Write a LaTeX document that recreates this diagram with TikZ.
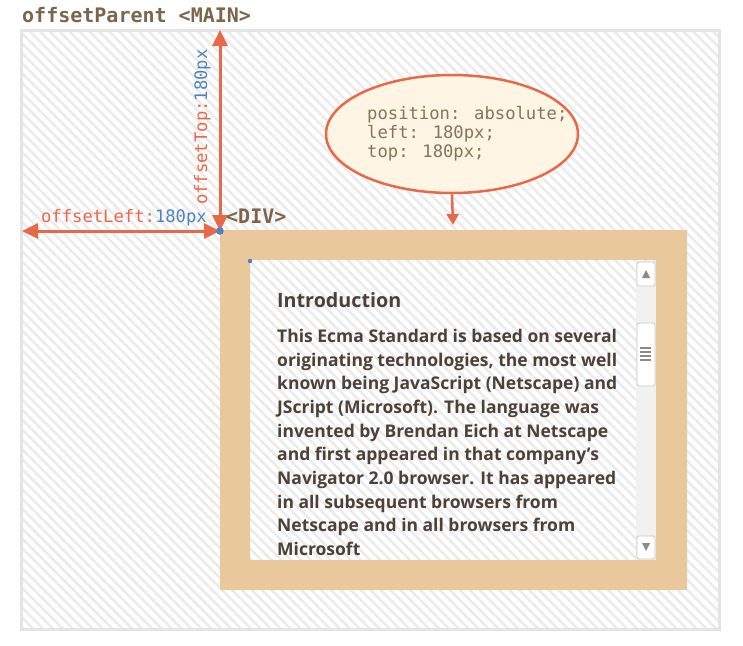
\documentclass[tikz,border=0pt]{standalone}
\usepackage{fontspec}
\setmainfont{Open Sans}
\newfontfamily\codefont{DejaVu Sans Mono}
\usetikzlibrary{arrows.meta,patterns.meta,shapes.geometric}
\definecolor{arrowred}{HTML}{E8684A}
\definecolor{offblue}{HTML}{4F82BE}
\definecolor{titlebrown}{HTML}{7C654A}
\definecolor{cssbrown}{HTML}{857559}
\definecolor{cssfill}{HTML}{FEF5E4}
\definecolor{divtan}{HTML}{E9C99B}
\definecolor{bodytext}{HTML}{4D4037}
\definecolor{hatchgray}{HTML}{EBEBEB}
\definecolor{bordergray}{HTML}{E4E4E4}
\definecolor{sbtrack}{HTML}{F1F1F1}
\definecolor{sbgray}{HTML}{C8C8C8}
\definecolor{sbarrow}{HTML}{8A8A8A}

\begin{document}
\begin{tikzpicture}[x=1pt,y=-1pt,
  hatch/.style={pattern={Lines[angle=-45,distance=7pt,line width=2.5pt]},pattern color=hatchgray},
  offarrow/.style={arrowred,line width=3pt,{Triangle[length=16pt,width=15pt]}-{Triangle[length=16pt,width=15pt]}},
  code/.style={font=\codefont\fontsize{17.2}{19}\selectfont,inner sep=0pt},
  codebold/.style={font=\codefont\bfseries\fontsize{20}{22}\selectfont,text=titlebrown,inner sep=0pt},
  sbutton/.style={draw=sbgray,fill=white,rounded corners=2pt,line width=0.8pt}]
\useasboundingbox (0,0) rectangle (743,645);
\fill[white] (0,0) rectangle (743,645);
\fill[hatch] (21,30) rectangle (719,629);
\draw[bordergray,line width=3pt] (21,30) rectangle (719,629);
\fill[divtan,even odd rule] (220,230) rectangle (687,590) (250,260) rectangle (656,560);
\fill[sbtrack] (636,261) rectangle (656,560);
\draw[sbutton] (637,262) rectangle (655,286);
\fill[sbarrow] (642,278) -- (650,278) -- (646,270) -- cycle;
\draw[sbutton] (637,323) rectangle (655,386);
\foreach \y in {348,352,356,360} \draw[sbarrow,line width=1.2pt] (640,\y) -- (651,\y);
\draw[sbutton] (637,536) rectangle (655,559);
\fill[sbarrow] (642,543) -- (650,543) -- (646,551) -- cycle;

\coordinate (divcorner) at (220,231);
\coordinate (parenttop) at (220,30);
\coordinate (parentleft) at (22,231);
\coordinate (divtop) at (453,225);
\draw[offarrow] (parenttop) -- (divcorner);
\draw[offarrow] (parentleft) -- (divcorner);
\fill[offblue] (divcorner) circle (3.8);
\fill[offblue] (250,261) circle (2.2);

\node[codebold,anchor=base west] (maintitle) at (22,22) {offsetParent <MAIN>};
\node[codebold,anchor=base west] (divtitle) at (226,223) {<DIV>};
\node[code,anchor=base east] (leftlabel) at (207,222) {\color{arrowred}offsetLeft:\color{offblue}180px};
\node[code,anchor=base west,rotate=90] (toplabel) at (207,205) {\color{arrowred}offsetTop:\color{offblue}180px};

\node[ellipse,draw=arrowred,fill=cssfill,line width=2.5pt,minimum width=252pt,minimum height=118pt] (css) at (452,134) {};
\node[code,text=cssbrown,align=left,anchor=north west] (csstext) at (367,106) {position: absolute;\\left: 180px;\\top: 180px;};
\draw[arrowred,line width=2.5pt,-{Triangle[length=11pt,width=12pt]}] (css.south) -- (divtop);

\node[anchor=base west,inner sep=0pt,text=bodytext,font=\bfseries\fontsize{19.7}{22}\selectfont] (heading) at (277,307) {Introduction};
\node[anchor=north west,inner sep=0pt,text=bodytext,align=left,font=\bfseries\fontsize{17.5}{23.67}\selectfont] (bodytext) at (277,329) {This Ecma Standard is based on several\\originating technologies, the most well\\known being JavaScript (Netscape) and\\JScript (Microsoft). The language was\\invented by Brendan Eich at Netscape\\and first appeared in that company’s\\Navigator 2.0 browser. It has appeared\\in all subsequent browsers from\\Netscape and in all browsers from\\Microsoft};
\end{tikzpicture}
\end{document}
